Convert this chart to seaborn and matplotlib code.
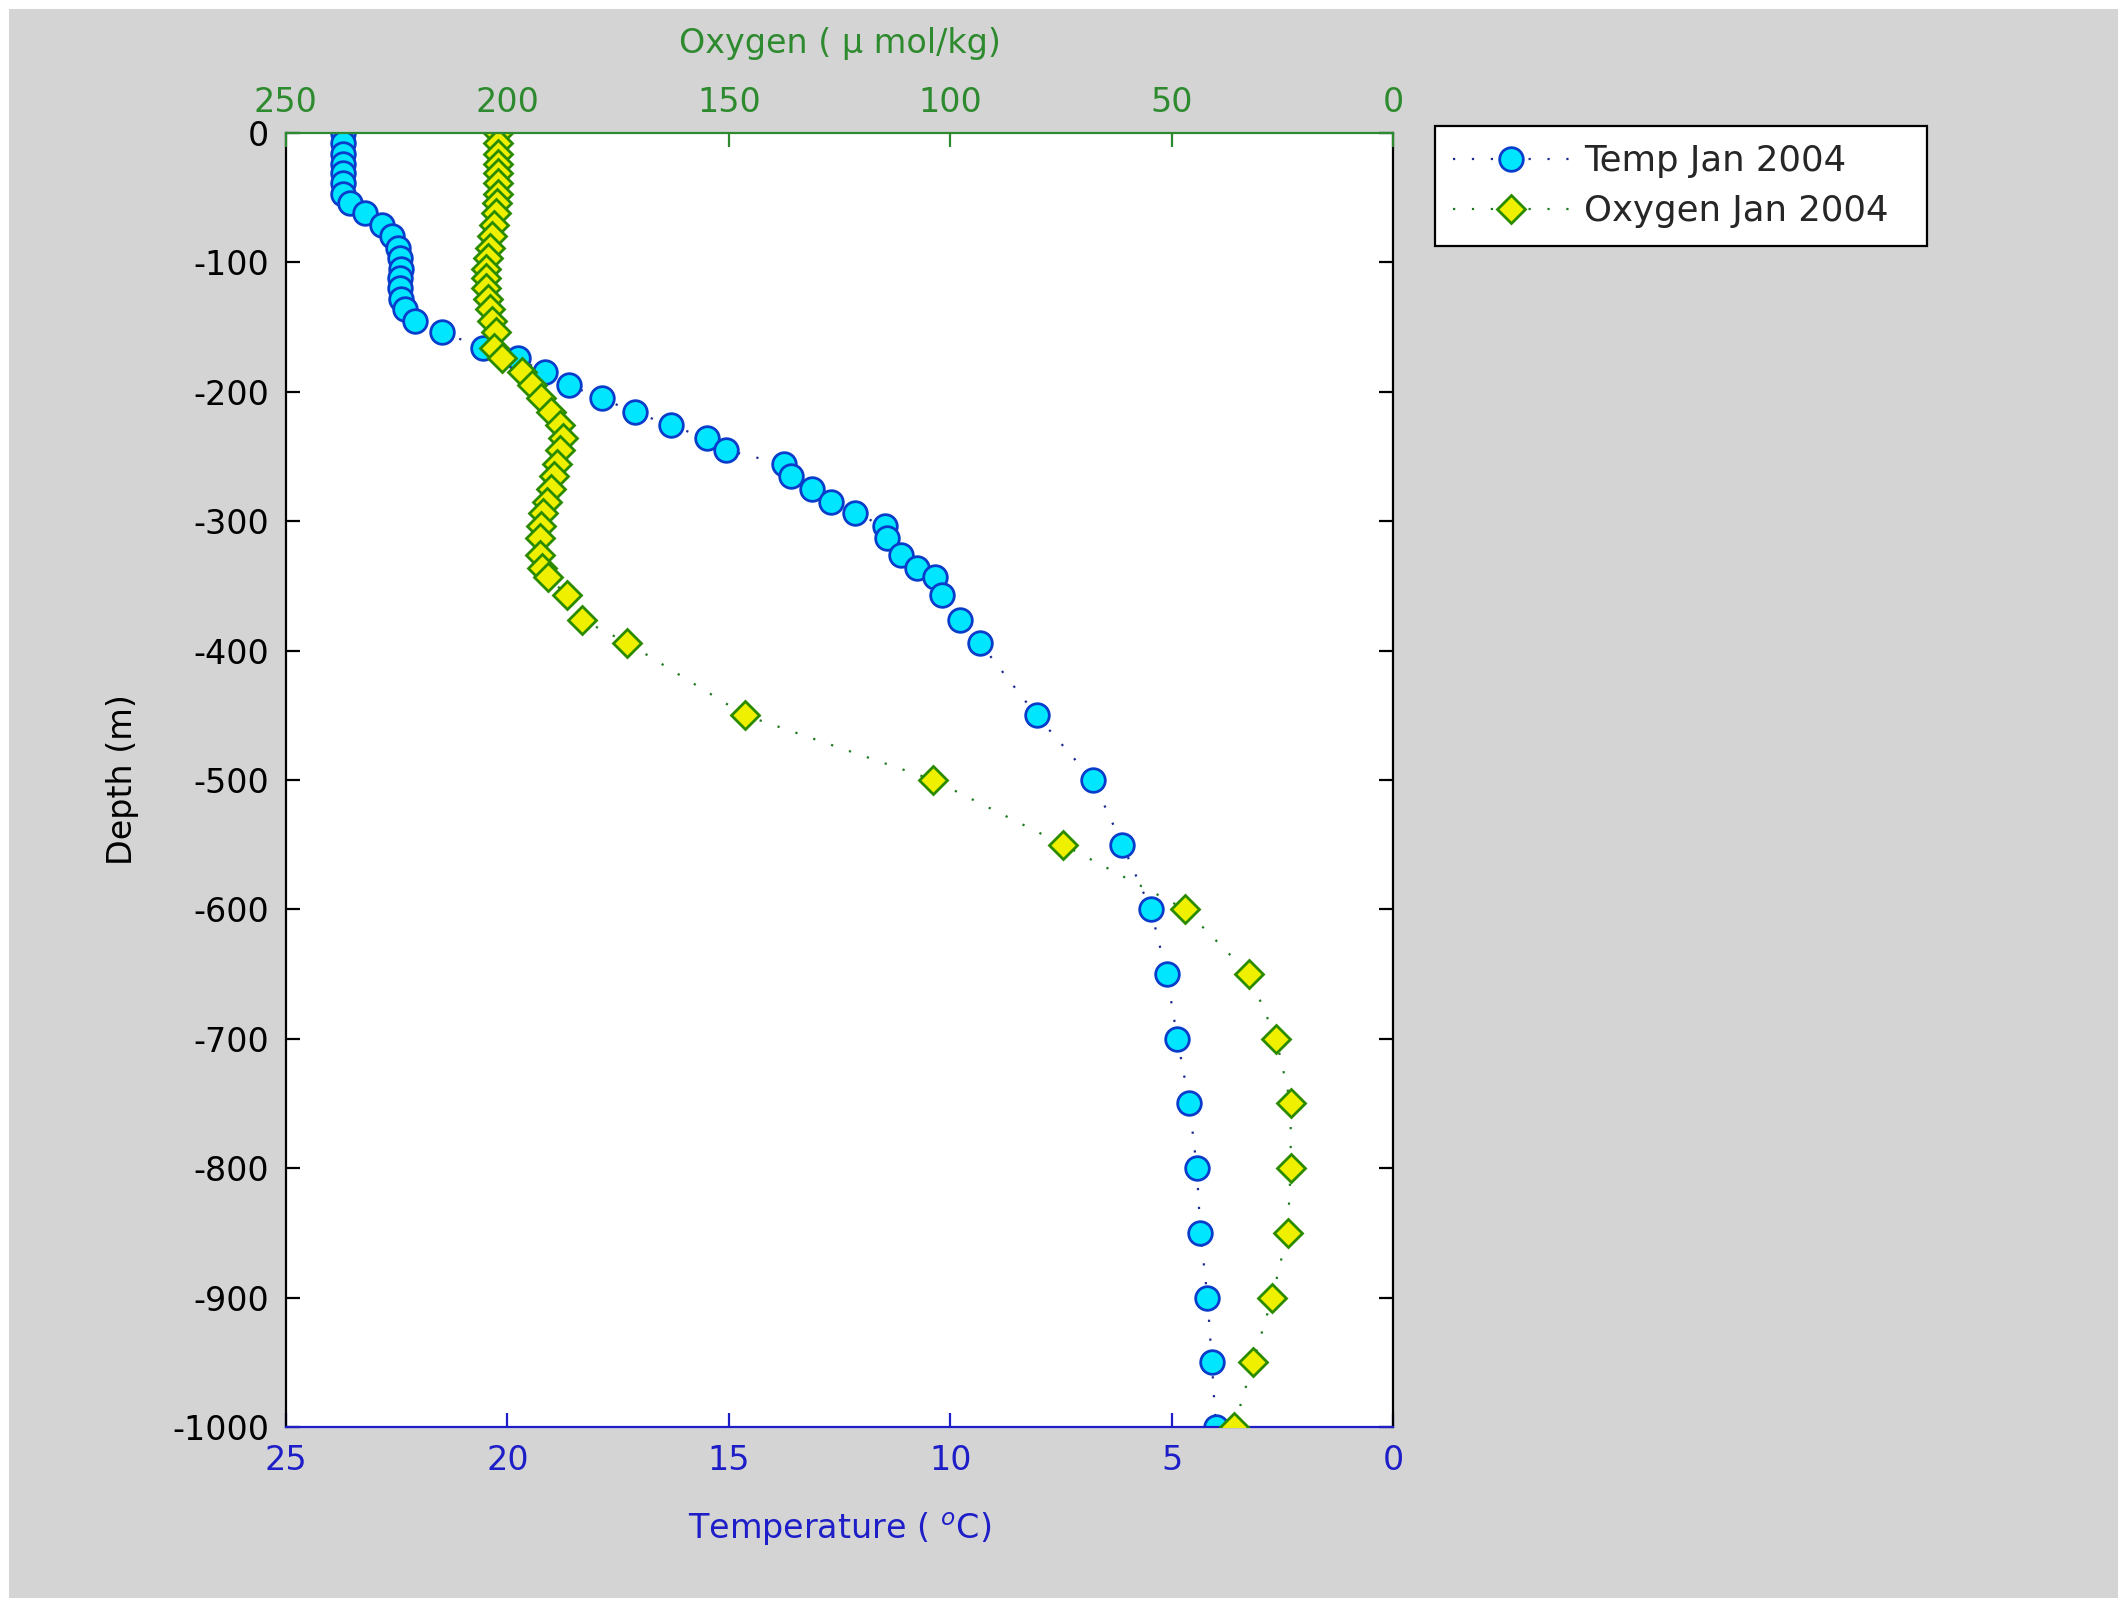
import pandas as pd
import matplotlib
matplotlib.use("Agg")
import matplotlib.pyplot as plt
import seaborn as sns
from matplotlib.patches import Rectangle

# Jan 2004 profile
depth = [0, -8, -16, -24, -31, -39, -47, -54, -62, -71, -80, -89, -97, -105,
         -112, -120, -128, -136, -145, -154, -166, -174, -185, -195, -205,
         -216, -226, -236, -245, -256, -265, -275, -285, -294, -304, -313,
         -326, -336, -343, -357, -376, -394, -450, -500, -550, -600, -650,
         -700, -750, -800, -850, -900, -950, -1000]
temperature = [23.71, 23.72, 23.72, 23.72, 23.72, 23.72, 23.70, 23.55, 23.21,
               22.84, 22.61, 22.46, 22.42, 22.40, 22.42, 22.43, 22.40, 22.31,
               22.09, 21.48, 20.54, 19.77, 19.16, 18.61, 17.87, 17.12, 16.30,
               15.50, 15.07, 13.76, 13.60, 13.12, 12.69, 12.15, 11.47, 11.43,
               11.10, 10.76, 10.34, 10.19, 9.78, 9.33, 8.05, 6.78, 6.11, 5.47,
               5.11, 4.87, 4.60, 4.43, 4.35, 4.19, 4.09, 4.00]
oxygen = [202.0, 202.0, 202.0, 202.0, 202.1, 202.1, 202.2, 202.3, 202.6,
          203.0, 203.5, 204.0, 204.4, 204.8, 204.9, 204.8, 204.4, 204.0,
          203.5, 202.5, 203.0, 201.3, 196.6, 194.5, 192.3, 190.2, 188.2,
          187.4, 188.1, 188.9, 189.4, 190.2, 191.1, 191.9, 192.5, 192.6,
          192.6, 192.2, 190.9, 186.6, 183.2, 172.9, 146.3, 103.8, 74.5, 46.9,
          32.5, 26.4, 23.1, 23.1, 23.8, 27.3, 31.6, 35.9]

temp_ticks = [25, 20, 15, 10, 5, 0]
oxygen_ticks = [250, 200, 150, 100, 50, 0]
depth_ticks = list(range(-1000, 1, 100))

BLUE = "#1e1ec8"
GREEN = "#2e8a2e"
FONT = 12

df = pd.DataFrame({"depth": depth, "temperature": temperature, "oxygen": oxygen})

sns.set_style("ticks")
plt.rcParams["font.family"] = ["DejaVu Sans"]
plt.rcParams["axes.unicode_minus"] = False

fig = plt.figure(figsize=(10.59, 7.99), dpi=200, facecolor="white")
# grey window background with a thin white strip on the left and top
fig.patches.append(Rectangle((9 / 2118, 0), 1, 1 - 9 / 1598, transform=fig.transFigure,
                             facecolor="#d4d4d4", edgecolor="none", zorder=-10))

ax = fig.add_axes([0.135, 0.107, 0.5227, 0.8098])
ax.set_facecolor("white")

sns.lineplot(data=df, x="temperature", y="depth", orient="y", sort=False,
             estimator=None, ax=ax, legend=False, color="#1a2a90",
             linewidth=0.8, linestyle=(0, (1, 7.5)),
             marker="o", markersize=8.5, markerfacecolor="#00e6ff",
             markeredgecolor="#0a3ccc", markeredgewidth=1.0,
             label="Temp Jan 2004")

ax2 = ax.twiny()
sns.lineplot(data=df, x="oxygen", y="depth", orient="y", sort=False,
             estimator=None, ax=ax2, legend=False, color="#1f7a1f",
             linewidth=0.8, linestyle=(0, (1, 7.5)),
             marker="D", markersize=7.2, markerfacecolor="#eef000",
             markeredgecolor="#2a8a00", markeredgewidth=1.0,
             label="Oxygen Jan 2004")

ax.set_xlim(25, 0)
ax.set_ylim(-1000, 0)
ax2.set_xlim(250, 0)
ax.set_xticks(temp_ticks)
ax.set_yticks(depth_ticks)
ax2.set_xticks(oxygen_ticks)

ax.tick_params(axis="x", direction="in", colors=BLUE, length=5, width=0.8,
               labelsize=FONT, pad=6, top=False, bottom=True)
ax.tick_params(axis="y", direction="in", colors="black", length=5, width=0.8,
               labelsize=FONT, pad=6, left=True, right=True)
ax2.tick_params(axis="x", direction="in", colors=GREEN, length=5, width=0.8,
                labelsize=FONT, pad=5, top=True, bottom=False)

for side in ["left", "right"]:
    ax.spines[side].set_color("black")
    ax.spines[side].set_linewidth(0.8)
ax.spines["bottom"].set_color(BLUE)
ax.spines["bottom"].set_linewidth(0.8)
ax.spines["top"].set_visible(False)
for side in ["bottom", "left", "right"]:
    ax2.spines[side].set_visible(False)
ax2.spines["top"].set_color(GREEN)
ax2.spines["top"].set_linewidth(0.8)

ax.set_xlabel("Temperature ( $^{o}$C)", color=BLUE, fontsize=FONT, labelpad=12)
ax.set_ylabel("Depth (m)", color="black", fontsize=FONT, labelpad=12)
ax2.set_xlabel("Oxygen ( μ mol/kg)", color=GREEN, fontsize=FONT, labelpad=12)

handles = [ax.get_lines()[0], ax2.get_lines()[0]]
leg = fig.legend(handles, ["Temp Jan 2004", "Oxygen Jan 2004"],
                 loc="upper left", bbox_to_anchor=(0.6775, 0.82, 0.2325, 0.101),
                 mode="expand",
                 frameon=True, fancybox=False, framealpha=1, fontsize=12.8,
                 handlelength=3.3, borderpad=0.5, labelspacing=0.45,
                 handletextpad=0.4, borderaxespad=0)
leg.get_frame().set_edgecolor("black")
leg.get_frame().set_linewidth(0.8)

fig.savefig("out.png", dpi=200, facecolor=fig.get_facecolor())
